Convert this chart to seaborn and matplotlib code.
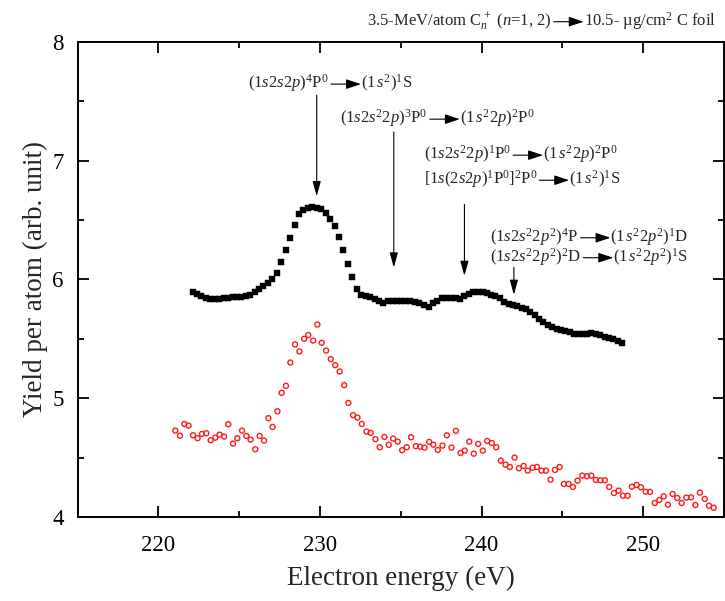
import numpy as np
import pandas as pd
import matplotlib
matplotlib.use("Agg")
import matplotlib.pyplot as plt
from matplotlib.ticker import MultipleLocator
from matplotlib.text import OffsetFrom
import seaborn as sns

# ---------------- data ----------------
black_x = [222.12, 222.39, 222.66, 222.95, 223.22, 223.48, 223.77, 224.04, 224.31, 224.60,
           224.87, 225.14, 225.43, 225.69, 225.96, 226.23, 226.50, 226.79, 227.06, 227.32,
           227.59, 227.88, 228.15, 228.44, 228.71, 228.98, 229.27, 229.53, 229.80, 230.09,
           230.36, 230.63, 230.91, 231.19, 231.45, 231.74, 232.01, 232.30, 232.57, 232.83,
           233.11, 233.39, 233.66, 233.93, 234.22, 234.49, 234.78, 235.04, 235.31, 235.60,
           235.87, 236.16, 236.42, 236.72, 237.01, 237.27, 237.54, 237.83, 238.10, 238.39,
           238.65, 238.94, 239.21, 239.50, 239.77, 240.06, 240.33, 240.59, 240.86, 241.13,
           241.40, 241.67, 241.94, 242.21, 242.48, 242.75, 243.02, 243.29, 243.56, 243.83,
           244.10, 244.37, 244.64, 244.91, 245.18, 245.45, 245.72, 245.99, 246.26, 246.53,
           246.80, 247.07, 247.34, 247.61, 247.88, 248.15, 248.42, 248.69]
black_y = [5.893, 5.873, 5.862, 5.843, 5.831, 5.831, 5.837, 5.839, 5.839, 5.853,
           5.853, 5.853, 5.859, 5.870, 5.890, 5.915, 5.940, 5.969, 6.003, 6.053,
           6.146, 6.244, 6.350, 6.454, 6.547, 6.580, 6.597, 6.606, 6.601, 6.589,
           6.559, 6.505, 6.452, 6.356, 6.247, 6.131, 6.019, 5.918, 5.870, 5.859,
           5.851, 5.837, 5.820, 5.805, 5.817, 5.820, 5.820, 5.820, 5.817, 5.814,
           5.809, 5.800, 5.786, 5.769, 5.800, 5.817, 5.839, 5.845, 5.845, 5.845,
           5.837, 5.856, 5.876, 5.893, 5.896, 5.890, 5.885, 5.865, 5.862, 5.839,
           5.811, 5.792, 5.784, 5.775, 5.763, 5.750, 5.727, 5.699, 5.668, 5.643,
           5.615, 5.601, 5.586, 5.573, 5.564, 5.556, 5.544, 5.536, 5.536, 5.542,
           5.548, 5.544, 5.533, 5.516, 5.505, 5.494, 5.483, 5.466]

red_x = [221.05, 221.34, 221.61, 221.87, 222.15, 222.43, 222.70, 222.97, 223.24, 223.53,
         223.79, 224.07, 224.33, 224.62, 224.89, 225.18, 225.45, 225.71, 226.00, 226.27,
         226.54, 226.81, 227.07, 227.37, 227.63, 227.90, 228.17, 228.46, 228.73, 229.02,
         229.28, 229.58, 229.84, 230.11, 230.38, 230.67, 230.94, 231.22, 231.50, 231.76,
         232.05, 232.32, 232.59, 232.88, 233.14, 233.43, 233.70, 233.99, 234.26, 234.53,
         234.81, 235.09, 235.37, 235.64, 235.93, 236.20, 236.47, 236.76, 237.02, 237.29,
         237.58, 237.85, 238.14, 238.41, 238.70, 238.96, 239.24, 239.52, 239.79, 240.08,
         240.35, 240.63, 240.91, 241.19, 241.48, 241.75, 242.04, 242.31, 242.60, 242.86,
         243.16, 243.42, 243.71, 243.98, 244.27, 244.54, 244.83, 245.09, 245.38, 245.65,
         245.94, 246.23, 246.52, 246.79, 247.07, 247.35, 247.63, 247.90, 248.19, 248.48,
         248.75, 249.04, 249.30, 249.59, 249.86, 250.15, 250.42, 250.71, 251.00, 251.27,
         251.53, 251.82, 252.11, 252.38, 252.67, 252.96, 253.23, 253.51, 253.81, 254.07,
         254.36]
red_y = [4.727, 4.685, 4.783, 4.769, 4.688, 4.663, 4.699, 4.705, 4.646, 4.668,
         4.693, 4.677, 4.781, 4.618, 4.663, 4.727, 4.682, 4.651, 4.570, 4.682,
         4.643, 4.832, 4.758, 4.890, 5.045, 5.104, 5.300, 5.452, 5.393, 5.500,
         5.531, 5.485, 5.620, 5.466, 5.401, 5.329, 5.278, 5.224, 5.110, 4.960,
         4.857, 4.837, 4.783, 4.719, 4.708, 4.655, 4.587, 4.674, 4.607, 4.660,
         4.634, 4.562, 4.587, 4.671, 4.596, 4.592, 4.584, 4.632, 4.609, 4.564,
         4.601, 4.688, 4.584, 4.725, 4.539, 4.559, 4.634, 4.533, 4.615, 4.559,
         4.640, 4.623, 4.587, 4.474, 4.441, 4.421, 4.500, 4.410, 4.430, 4.390,
         4.415, 4.421, 4.390, 4.390, 4.314, 4.396, 4.421, 4.278, 4.278, 4.253,
         4.306, 4.348, 4.343, 4.348, 4.312, 4.309, 4.309, 4.253, 4.202, 4.222,
         4.179, 4.179, 4.255, 4.270, 4.250, 4.213, 4.211, 4.118, 4.143, 4.174,
         4.104, 4.194, 4.160, 4.118, 4.163, 4.166, 4.101, 4.205, 4.152, 4.095,
         4.078]

# transition labels: (left part, right part, x, baseline y)
label_left = [r"$(1s2s2p)^4\mathrm{P}^0$",
              r"$(1s2s^22p)^3\mathrm{P}^0$",
              r"$(1s2s^22p)^1\mathrm{P}^0$",
              r"$[1s(2s2p)^1\mathrm{P}^0]^2\mathrm{P}^0$",
              r"$(1s2s^22p^2)^4\mathrm{P}$",
              r"$(1s2s^22p^2)^2\mathrm{D}$"]
label_right = [r"$(1\,s^2)^1\mathrm{S}$",
               r"$(1\,s^22p)^2\mathrm{P}^0$",
               r"$(1\,s^22p)^2\mathrm{P}^0$",
               r"$(1\,s^2)^1\mathrm{S}$",
               r"$(1\,s^22p^2)^1\mathrm{D}$",
               r"$(1\,s^22p^2)^1\mathrm{S}$"]
label_x = [225.58, 231.27, 236.42, 236.42, 240.55, 240.55]
label_y = [7.612, 7.317, 7.014, 6.803, 6.319, 6.151]

# vertical marker arrows
arrow_x = [229.80, 234.57, 238.94, 242.00]
arrow_top = [7.55, 7.24, 6.63, 6.10]
arrow_tip = [6.70, 6.10, 6.03, 5.87]

title_left = r"3.5-MeV/atom C$_n^{\,+}$ ($n$=1, 2)"
title_right = r"10.5- µg/cm$^2$ C foil"

# ---------------- style ----------------
sns.set_style("ticks")
plt.rcParams["font.family"] = ["Liberation Serif", "DejaVu Serif"]
plt.rcParams["mathtext.fontset"] = "custom"
plt.rcParams["mathtext.rm"] = "Liberation Serif"
plt.rcParams["mathtext.it"] = "Liberation Serif:italic"
plt.rcParams["mathtext.bf"] = "Liberation Serif:bold"

fig = plt.figure(figsize=(7.25, 6.01), dpi=100)
W, H = 725, 601
ax = fig.add_axes([77.5 / W, 1 - 517 / H, (724 - 77.5) / W, (517 - 41.7) / H])

df_b = pd.DataFrame({"energy": black_x, "yield": black_y})
df_r = pd.DataFrame({"energy": red_x, "yield": red_y})

sns.scatterplot(data=df_r, x="energy", y="yield", marker="o", s=13,
                facecolors="none", edgecolor="#ff1a1a", linewidth=1.0, ax=ax, zorder=3)
sns.scatterplot(data=df_b, x="energy", y="yield", marker="s", s=13,
                color="black", edgecolor="black", linewidth=0.3, ax=ax, zorder=4)

ax.set_xlim(215, 255)
ax.set_ylim(4, 8)
ax.xaxis.set_major_locator(MultipleLocator(10))
ax.xaxis.set_minor_locator(MultipleLocator(5))
ax.yaxis.set_major_locator(MultipleLocator(1))
ax.yaxis.set_minor_locator(MultipleLocator(0.5))
ax.tick_params(which="both", direction="in", top=True, right=True, width=1.3,
               labelsize=16.5, colors="black")
ax.tick_params(which="major", length=8)
ax.tick_params(axis="x", which="major", pad=13)
ax.tick_params(axis="y", which="major", pad=10)
ax.tick_params(which="minor", length=4.5)
for sp in ax.spines.values():
    sp.set_linewidth(1.4)
    sp.set_color("black")

ax.set_xlabel("Electron energy (eV)", fontsize=19.5, labelpad=7)
ax.set_ylabel("Yield per atom (arb. unit)", fontsize=19.5, labelpad=3)

FS = 12
ALEN = 23


def transition(left, right, xy, coords):
    t1 = ax.annotate(left, xy=xy, xycoords=coords, ha="left", va="baseline",
                     fontsize=FS, annotation_clip=False)
    ref = OffsetFrom(t1, (1, 0))
    ax.annotate("", xy=(ALEN, FS * 0.6), xycoords=ref,
                xytext=(1.5, FS * 0.6), textcoords=ref,
                arrowprops=dict(arrowstyle="-|>,head_length=0.9,head_width=0.3",
                                color="black", lw=0.8, shrinkA=0, shrinkB=0),
                annotation_clip=False)
    ax.annotate(right, xy=(1, 0), xycoords=t1, xytext=(ALEN, 0),
                textcoords="offset points", ha="left", va="bottom",
                fontsize=FS, annotation_clip=False)


for l, r, x, y in zip(label_left, label_right, label_x, label_y):
    transition(l, r, (x, y), "data")

transition(title_left, title_right, (367, H - 25), "figure pixels")

for x, y0, y1 in zip(arrow_x, arrow_top, arrow_tip):
    ax.annotate("", xy=(x, y1), xytext=(x, y0), xycoords="data",
                arrowprops=dict(arrowstyle="-|>,head_length=0.9,head_width=0.25",
                                color="black", lw=0.8, shrinkA=0, shrinkB=0))

fig.savefig("out.png", dpi=100)
